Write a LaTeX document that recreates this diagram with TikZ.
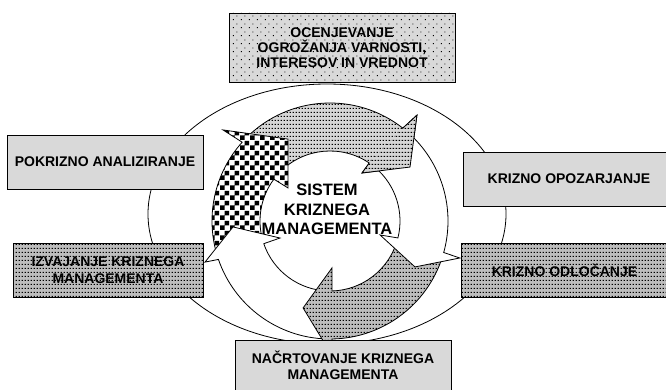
\documentclass[tikz,border=0pt]{standalone}
\usepackage{fontspec}
\setmainfont{Liberation Sans}
\usetikzlibrary{patterns}
\pgfdeclarepatternformonly{rowdots}{\pgfqpoint{0pt}{0pt}}{\pgfqpoint{3.3pt}{4pt}}{\pgfqpoint{3.3pt}{4pt}}{%
  \pgfpathrectangle{\pgfqpoint{0.8pt}{1.5pt}}{\pgfqpoint{1.6pt}{1.1pt}}\pgfusepath{fill}}
\pgfdeclarepatternformonly{sparsedots}{\pgfqpoint{0pt}{0pt}}{\pgfqpoint{8pt}{8pt}}{\pgfqpoint{8pt}{8pt}}{%
  \pgfpathrectangle{\pgfqpoint{1pt}{1pt}}{\pgfqpoint{1pt}{1pt}}\pgfusepath{fill}%
  \pgfpathrectangle{\pgfqpoint{5pt}{5pt}}{\pgfqpoint{1pt}{1pt}}\pgfusepath{fill}}
\pgfdeclarepatternformonly{checker}{\pgfqpoint{0pt}{0pt}}{\pgfqpoint{10pt}{10pt}}{\pgfqpoint{10pt}{10pt}}{%
  \pgfpathrectangle{\pgfqpoint{0pt}{0pt}}{\pgfqpoint{5pt}{5pt}}%
  \pgfpathrectangle{\pgfqpoint{5pt}{5pt}}{\pgfqpoint{5pt}{5pt}}\pgfusepath{fill}}
\definecolor{boxgray}{HTML}{D9D9D9}
\definecolor{lightdot}{HTML}{D6D6D6}
\definecolor{darkdot}{HTML}{BDBDBD}
\tikzset{
  box/.style={draw=black, line width=0.8pt, rectangle, inner sep=0pt, align=center,
    font=\bfseries\fontsize{14}{16}\selectfont},
  plainbox/.style={box, fill=boxgray},
  dotbox/.style={box, preaction={fill=darkdot}, pattern=rowdots, pattern color=black},
  sparsebox/.style={box, preaction={fill=boxgray}, pattern=sparsedots, pattern color=black},
  arrline/.style={draw=black, line width=0.8pt},
  arrA/.style={arrline, preaction={fill=lightdot}, pattern=rowdots, pattern color=black},
  arrC/.style={arrline, preaction={fill=darkdot}, pattern=rowdots, pattern color=black},
  arrE/.style={arrline, preaction={fill=white}, pattern=checker, pattern color=black},
  arrW/.style={arrline, fill=white},
}
\begin{document}
\begin{tikzpicture}[x=1pt, y=1pt]
\useasboundingbox (0,0) rectangle (666,389);
\clip (0,0) rectangle (666,389);
\fill[white] (0,0) rectangle (666,389);
% outer ellipse
\draw[line width=0.8pt] (327,175) ellipse [x radius=179, y radius=130];
% ring of arrows
\begin{scope}[shift={(330,168)}]
  % A: light dotted, top
  \path[arrA] (135:118pt) arc[start angle=135, end angle=51.9, radius=118pt]
    -- (50.6:137pt) -- (34:96.5pt) -- (56.3:57.7pt) -- (55.9:70pt)
    arc[start angle=55.9, end angle=135, radius=70pt] -- cycle;
  % E: checkered, left
  \path[arrE] (196:118pt) arc[start angle=196, end angle=138.1, radius=118pt]
    -- (139.6:140.5pt) -- (117.1:92pt) -- (141.8:53.4pt) -- (143.3:70pt)
    arc[start angle=143.3, end angle=196, radius=70pt] -- cycle;
  % D: white, lower left
  \path[arrW] (268.5:118pt) arc[start angle=268.5, end angle=199, radius=118pt]
    -- (198.2:131.6pt) -- (183.5:97.2pt) -- (198.8:52.8pt) -- (198.9:70pt)
    arc[start angle=198.9, end angle=268.5, radius=70pt] -- cycle;
  % C: dense dotted, lower right
  \path[arrC] (-18:118pt) arc[start angle=-18, end angle=-89, radius=118pt]
    -- (-89:135pt) -- (-107.2:91pt) -- (-87.6:47pt) -- (-88.3:70pt)
    arc[start angle=-88.3, end angle=-18, radius=70pt] -- cycle;
  % B: white, right
  \path[arrW] (49:118pt) arc[start angle=49, end angle=-15.5, radius=118pt]
    -- (-15.9:135pt) -- (-28.4:96.6pt) -- (-15.6:52pt) -- (-14:70pt)
    arc[start angle=-14, end angle=49, radius=70pt] -- cycle;
  % head of A again, on top of the tail of B
  \path[preaction={fill=lightdot}, pattern=rowdots, pattern color=black]
    (51.9:118pt) -- (50.6:137pt) -- (34:96.5pt) -- (56.3:57.7pt) -- (55.9:70pt) -- cycle;
  \draw[line width=0.8pt] (51.9:118pt) -- (50.6:137pt) -- (34:96.5pt) -- (56.3:57.7pt) -- (55.9:70pt);
\end{scope}
% boxes
\node[sparsebox, minimum width=226pt, minimum height=69pt,
  font=\bfseries\fontsize{14}{15}\selectfont] (ocen) at (342,341.5)
  {OCENJEVANJE\\OGROŽANJA VARNOSTI,\\INTERESOV IN VREDNOT};
\node[plainbox, minimum width=196pt, minimum height=54pt] (pokr) at (105,227) {POKRIZNO ANALIZIRANJE};
\node[plainbox, minimum width=212pt, minimum height=54pt] (opoz) at (569,210) {KRIZNO OPOZARJANJE};
\node[dotbox, minimum width=190pt, minimum height=54pt,
  font=\bfseries\fontsize{14}{17}\selectfont] (izv) at (108,119) {IZVAJANJE KRIZNEGA\\MANAGEMENTA};
\node[dotbox, minimum width=207pt, minimum height=54pt] (odl) at (564.5,119) {KRIZNO ODLOČANJE};
\node[plainbox, minimum width=216pt, minimum height=51pt] (nacr) at (343,23.5) {NAČRTOVANJE KRIZNEGA\\MANAGEMENTA};
% centre text
\node[font=\bfseries\fontsize{16.5}{19.5}\selectfont, align=center, inner sep=0pt] (sys) at (327,179.5)
  {SISTEM\\KRIZNEGA\\MANAGEMENTA};
\end{tikzpicture}
\end{document}
